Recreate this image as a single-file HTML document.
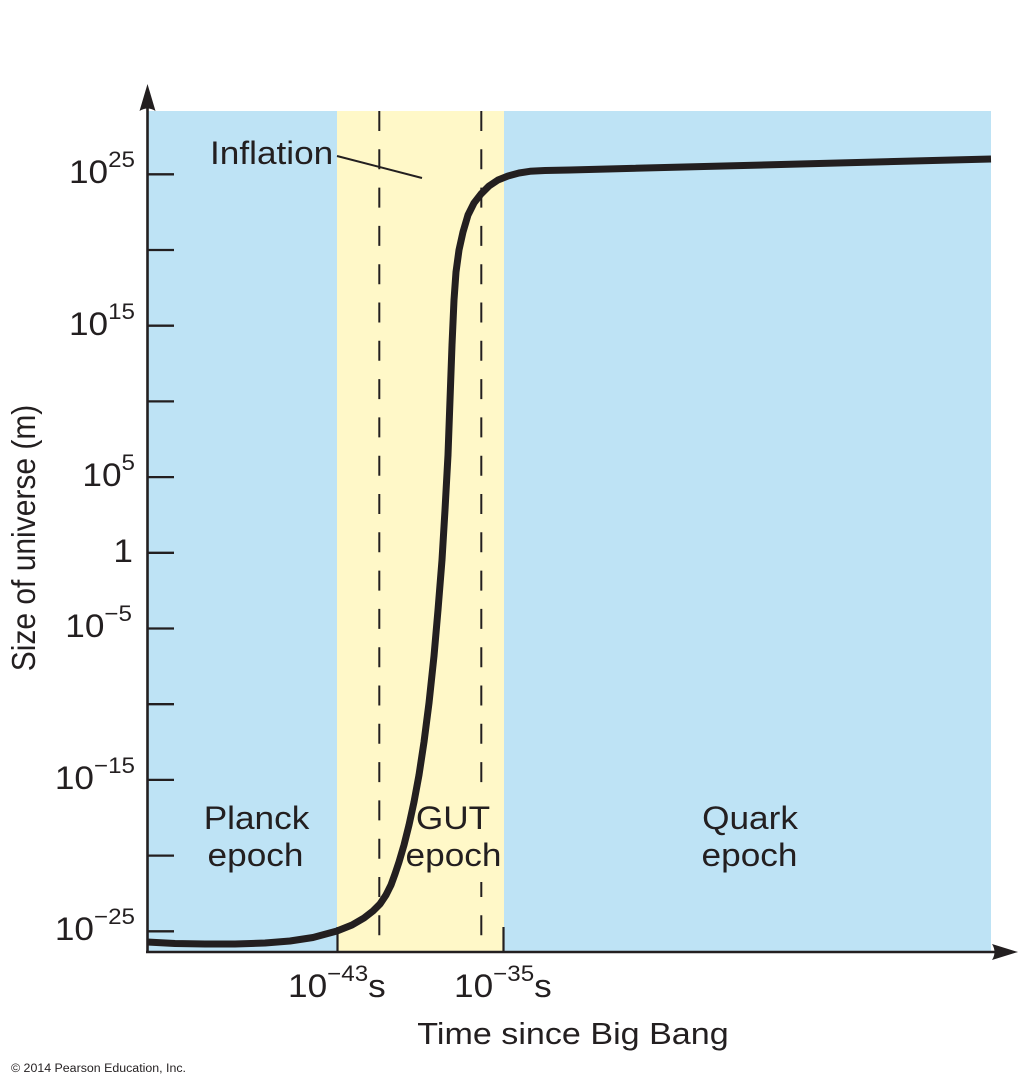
<!DOCTYPE html>
<html>
<head>
<meta charset="utf-8">
<style>
  html, body { margin: 0; padding: 0; background: #ffffff; }
  svg { display: block; }
  text { font-family: "Liberation Sans", "DejaVu Sans", sans-serif; fill: #231f20; }
</style>
</head>
<body>
<svg width="1029" height="1088" viewBox="0 0 1029 1088" xmlns="http://www.w3.org/2000/svg">
  <rect x="0" y="0" width="1029" height="1088" fill="#ffffff"/>

  <!-- background regions -->
  <rect x="147" y="111" width="844" height="841" fill="#bee3f5"/>
  <rect x="337" y="111" width="167" height="841" fill="#fff8c8"/>

  <!-- dashed lines -->
  <line x1="379.3" y1="111" x2="379.3" y2="944" stroke="#231f20" stroke-width="2" stroke-dasharray="20 18.3"/>
  <line x1="481.3" y1="111" x2="481.3" y2="944" stroke="#231f20" stroke-width="2" stroke-dasharray="20 18.3"/>
  <!-- knockout behind GUT label -->
  <rect x="475" y="792" width="13" height="90" fill="#fff8c8"/>

  <!-- epoch boundary ticks -->
  <line x1="337.5" y1="927" x2="337.5" y2="952" stroke="#231f20" stroke-width="2.2"/>
  <line x1="503.5" y1="927" x2="503.5" y2="952" stroke="#231f20" stroke-width="2.2"/>

  <!-- Inflation leader -->
  <line x1="337" y1="156" x2="422" y2="178" stroke="#231f20" stroke-width="2"/>

  <!-- curve -->
  <polyline fill="none" stroke="#231f20" stroke-width="7" stroke-linejoin="round" stroke-linecap="butt"
    points="147,942 175,943.5 205,944 235,944 265,943 290,941 313,937.5 337,931 352,925 364,918 373,911 380,904 386,895 391,885 395,874 399,862 404,845 409,825 414,802 419,775 424,742 429,703 434,656 438,610 442,560 445,510 448,455 450,400 452,345 454,300 456,272 459,250 463,232 468,215 474,203 481,194 489,186 498,180 508,176 519,173 530,171.3 545,170.5 570,170 991,159"/>

  <!-- axes -->
  <line x1="147.5" y1="105" x2="147.5" y2="953" stroke="#231f20" stroke-width="2.6"/>
  <line x1="146" y1="952" x2="998" y2="952" stroke="#231f20" stroke-width="2.6"/>
  <path d="M147.5,84 L155.5,111 Q147.5,106 139.5,111 Z" fill="#231f20"/>
  <path d="M1018,952 L992,944 Q997,952 992,960 Z" fill="#231f20"/>

  <!-- y ticks -->
  <g stroke="#231f20" stroke-width="2.3">
    <line x1="147" y1="174.3" x2="174" y2="174.3"/>
    <line x1="147" y1="250" x2="174" y2="250"/>
    <line x1="147" y1="325.7" x2="174" y2="325.7"/>
    <line x1="147" y1="401.4" x2="174" y2="401.4"/>
    <line x1="147" y1="477.1" x2="174" y2="477.1"/>
    <line x1="147" y1="552.8" x2="174" y2="552.8"/>
    <line x1="147" y1="628.5" x2="174" y2="628.5"/>
    <line x1="147" y1="704.2" x2="174" y2="704.2"/>
    <line x1="147" y1="779.9" x2="174" y2="779.9"/>
    <line x1="147" y1="855.6" x2="174" y2="855.6"/>
    <line x1="147" y1="931.3" x2="174" y2="931.3"/>
  </g>

  <!-- y tick labels -->
  <g font-size="32">
    <text transform="translate(135,183) scale(1.1,1)" text-anchor="end">10<tspan font-size="22" dy="-16">25</tspan></text>
    <text transform="translate(135,335) scale(1.1,1)" text-anchor="end">10<tspan font-size="22" dy="-16">15</tspan></text>
    <text transform="translate(135,486) scale(1.1,1)" text-anchor="end">10<tspan font-size="22" dy="-16">5</tspan></text>
    <text transform="translate(133,562) scale(1.1,1)" text-anchor="end">1</text>
    <text transform="translate(132,637) scale(1.1,1)" text-anchor="end">10<tspan font-size="22" dy="-16">−5</tspan></text>
    <text transform="translate(135,789) scale(1.1,1)" text-anchor="end">10<tspan font-size="22" dy="-16">−15</tspan></text>
    <text transform="translate(135,940) scale(1.1,1)" text-anchor="end">10<tspan font-size="22" dy="-16">−25</tspan></text>
  </g>

  <!-- x tick labels -->
  <g font-size="32">
    <text transform="translate(288,997) scale(1.1,1)">10<tspan font-size="22" dy="-16">−43</tspan><tspan dy="16">s</tspan></text>
    <text transform="translate(454,997) scale(1.1,1)">10<tspan font-size="22" dy="-16">−35</tspan><tspan dy="16">s</tspan></text>
  </g>

  <!-- axis titles -->
  <text transform="translate(573,1044) scale(1.1,1)" font-size="31" text-anchor="middle">Time since Big Bang</text>
  <text transform="translate(35,538) rotate(-90) scale(1,1.1)" font-size="30" text-anchor="middle">Size of universe (m)</text>

  <!-- Inflation label -->
  <text transform="translate(210,164) scale(1.1,1)" font-size="32">Inflation</text>

  <!-- epoch labels -->
  <g font-size="32" text-anchor="middle">
    <text transform="translate(256.5,829) scale(1.1,1)">Planck</text>
    <text transform="translate(255.5,866) scale(1.1,1)">epoch</text>
    <text transform="translate(453,829) scale(1.1,1)">GUT</text>
    <text transform="translate(453.5,866) scale(1.1,1)">epoch</text>
    <text transform="translate(750,829) scale(1.1,1)">Quark</text>
    <text transform="translate(749.5,866) scale(1.1,1)">epoch</text>
  </g>

  <!-- copyright -->
  <text x="11" y="1072" font-size="11.5" textLength="175" lengthAdjust="spacingAndGlyphs">© 2014 Pearson Education, Inc.</text>
</svg>
</body>
</html>
